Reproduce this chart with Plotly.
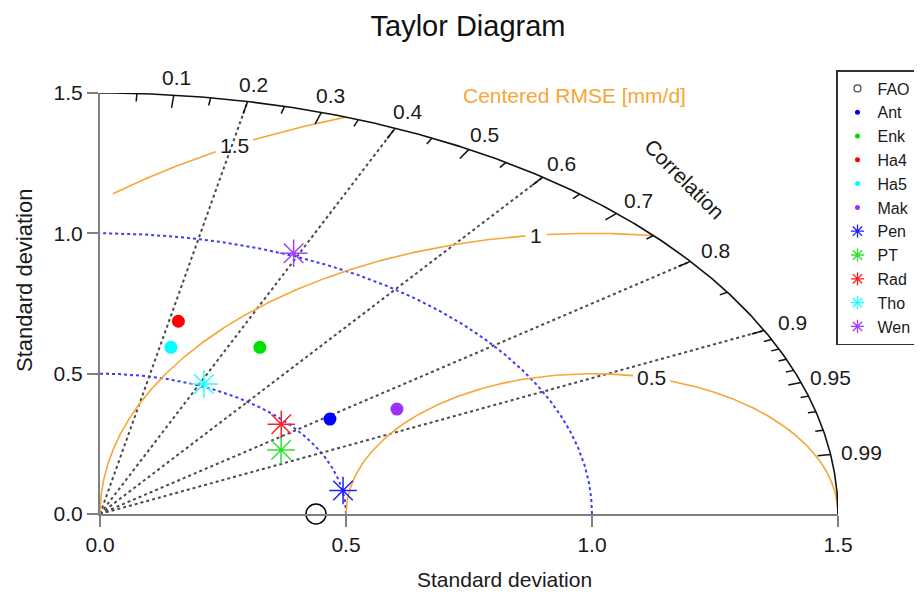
import numpy as np
import plotly.graph_objects as go

# ---------------- data ----------------
MODELS = ["FAO", "Ant", "Enk", "Ha4", "Ha5", "Mak", "Pen", "PT", "Rad", "Tho", "Wen"]
STD_DEV = [0.439, 0.577, 0.677, 0.705, 0.611, 0.710, 0.501, 0.433, 0.488, 0.509, 1.009]
CORRELATION = [1.0, 0.810, 0.480, 0.226, 0.236, 0.850, 0.986, 0.850, 0.755, 0.415, 0.390]
KIND = ["ref", "dot", "dot", "dot", "dot", "dot", "star", "star", "star", "star", "star"]
COLORS = ["#000000", "#0000ff", "#00e000", "#ff0000", "#00ffff", "#9b30ff",
          "#2020ff", "#30e030", "#ff2020", "#20ffff", "#a040ff"]

CORR_LABEL_TICKS = [0.1, 0.2, 0.3, 0.4, 0.5, 0.6, 0.7, 0.8, 0.9, 0.95, 0.99]
CORR_LABELS = ["0.1", "0.2", "0.3", "0.4", "0.5", "0.6", "0.7", "0.8", "0.9", "0.95", "0.99"]
CORR_MINOR_TICKS = [0.05, 0.15, 0.25, 0.35, 0.45, 0.55, 0.65, 0.75, 0.85,
                    0.91, 0.92, 0.93, 0.94, 0.96, 0.97, 0.98]
CORR_GRID = [0.2, 0.4, 0.6, 0.8, 0.9]
SD_ARCS = [0.5, 1.0]
SD_MAX = 1.5
RMSE_REF = 1.0
RMSE_LEVELS = [0.5, 1.0, 1.5]
RMSE_LABELS = ["0.5", "1", "1.5"]
AXIS_TICKS = [0.0, 0.5, 1.0, 1.5]
AXIS_TICK_TEXT = ["0.0", "0.5", "1.0", "1.5"]

# ---------------- styling / layout helpers ----------------
FONT = "Liberation Sans, Arial, sans-serif"
TXT = "#1a1a1a"
ORANGE = "#f7a635"
GRID_GRAY = "#4a4a4a"
BLUE_DOT = "#3a3aff"
OFF = 8                      # page body margin offset
W, H = 922 - OFF, 601 - OFF
L, T = 100 - OFF, 93 - OFF
R = W - (838 - OFF)
B = H - (514 - OFF)
PW, PH = W - L - R, H - T - B
PX_X = PW / SD_MAX
PX_Y = PH / SD_MAX
RMSE_LABEL_ANGLES = [76, 96.5, 119]   # placement of contour labels (deg around ref point)
LABEL_R = 1.563


def page_to_paper(px, py):
    return (px - OFF - L) / PW, (H - B - (py - OFF)) / PH


def to_xy(sd, corr):
    th = np.arccos(np.clip(corr, -1, 1))
    return sd * np.cos(th), sd * np.sin(th)


def clean(a):
    return [None if (v is None or (isinstance(v, float) and np.isnan(v))) else float(v) for v in a]


fig = go.Figure()

# std-dev arcs (blue dotted)
th = np.linspace(0, np.pi / 2, 400)
for r in SD_ARCS:
    fig.add_trace(go.Scatter(x=r * np.cos(th), y=r * np.sin(th), mode="lines",
                             line=dict(color=BLUE_DOT, width=2, dash="dot"),
                             hoverinfo="skip", showlegend=False, cliponaxis=False))

# correlation grid lines (gray dotted)
for c in CORR_GRID:
    x1, y1 = to_xy(SD_MAX, c)
    fig.add_trace(go.Scatter(x=[0, x1], y=[0, y1], mode="lines",
                             line=dict(color=GRID_GRAY, width=2, dash="dot"),
                             hoverinfo="skip", showlegend=False, cliponaxis=False))

# centered RMSE contours
t = np.linspace(0, np.pi, 2000)
ann = []
for lev, lab, ang in zip(RMSE_LEVELS, RMSE_LABELS, RMSE_LABEL_ANGLES):
    x = RMSE_REF + lev * np.cos(t)
    y = lev * np.sin(t)
    xmin = 0.0 if lev <= RMSE_REF else 0.025
    keep = (x >= xmin) & (x ** 2 + y ** 2 <= SD_MAX ** 2 + 1e-9)
    lx = RMSE_REF + lev * np.cos(np.radians(ang))
    ly = lev * np.sin(np.radians(ang))
    half = (11 * sum(ch.isdigit() for ch in lab) + 5 * lab.count(".") + 10) / 2
    gap = (np.abs(x - lx) * PX_X < half) & (np.abs(y - ly) * PX_Y < 12)
    m = keep & ~gap
    xs = np.where(m, x, np.nan)
    ys = np.where(m, y, np.nan)
    fig.add_trace(go.Scatter(x=clean(xs), y=clean(ys), mode="lines",
                             line=dict(color=ORANGE, width=1.6),
                             connectgaps=False, hoverinfo="skip",
                             showlegend=False, cliponaxis=False))
    ann.append(dict(x=lx, y=ly, xref="x", yref="y", text=lab, showarrow=False,
                    xanchor="center", yanchor="middle",
                    font=dict(family=FONT, size=21, color=TXT)))

# outer arc
fig.add_trace(go.Scatter(x=SD_MAX * np.cos(th), y=SD_MAX * np.sin(th), mode="lines",
                         line=dict(color="#111111", width=1.6),
                         hoverinfo="skip", showlegend=False, cliponaxis=False))

# correlation ticks on arc
tx, ty = [], []
for ticks, plen in ((CORR_LABEL_TICKS, 13), (CORR_MINOR_TICKS, 8)):
    for c in ticks:
        thc = np.arccos(c)
        dl = plen / np.hypot(PX_X * np.cos(thc), PX_Y * np.sin(thc))
        xa, ya = to_xy(SD_MAX, c)
        xb, yb = to_xy(SD_MAX - dl, c)
        tx += [xa, xb, None]
        ty += [ya, yb, None]
fig.add_trace(go.Scatter(x=tx, y=ty, mode="lines", line=dict(color="#111111", width=1.5),
                         hoverinfo="skip", showlegend=False, cliponaxis=False))

# correlation labels (paper-referenced so those above the axis range still show)
lxs, lys = to_xy(LABEL_R, np.array(CORR_LABEL_TICKS))
for xx, yy, lab in zip(lxs, lys, CORR_LABELS):
    ann.append(dict(x=xx / SD_MAX, y=yy / SD_MAX, xref="paper", yref="paper", text=lab,
                    showarrow=False, xanchor="center", yanchor="middle",
                    font=dict(family=FONT, size=21, color=TXT)))

# data points (plot) + legend entries
for name, sd, cr, kind, col in zip(MODELS, STD_DEV, CORRELATION, KIND, COLORS):
    px, py = to_xy(sd, cr)
    if kind == "ref":
        mk = dict(symbol="circle-open", size=20, color=col, line=dict(color=col, width=1.5))
        lmk = dict(symbol="circle-open", size=7, color="#444", line=dict(color="#444", width=1.2))
    elif kind == "dot":
        mk = dict(symbol="circle", size=13, color=col)
        lmk = dict(symbol="circle", size=5, color=col)
    else:
        mk = dict(symbol="asterisk-open", size=23, color=col, line=dict(color=col, width=1.5))
        lmk = dict(symbol="asterisk-open", size=11, color=col, line=dict(color=col, width=1.3))
    fig.add_trace(go.Scatter(x=[px], y=[py], mode="markers", marker=mk, name=name,
                             showlegend=False, cliponaxis=False))
    fig.add_trace(go.Scatter(x=[None], y=[None], mode="markers", marker=lmk, name=name,
                             showlegend=True))

# text annotations
xt_x, xt_y = page_to_paper(504, 579)
yt_x, yt_y = page_to_paper(24, 281)
ann += [
    dict(x=0.965, y=1.491, xref="x", yref="y", text="Centered RMSE [mm/d]", showarrow=False,
         xanchor="center", yanchor="middle",
         font=dict(family=FONT, size=21, color=ORANGE)),
    dict(x=1.189, y=1.192, xref="x", yref="y", text="Correlation", showarrow=False,
         xanchor="center", yanchor="middle",
         textangle=45, font=dict(family=FONT, size=21, color=TXT)),
    dict(x=xt_x, y=xt_y, xref="paper", yref="paper",
         text="Standard deviation", showarrow=False, xanchor="center", yanchor="middle",
         font=dict(family=FONT, size=21, color=TXT)),
    dict(x=yt_x, y=yt_y, xref="paper", yref="paper",
         text="Standard deviation", showarrow=False, textangle=-90,
         xanchor="center", yanchor="middle",
         font=dict(family=FONT, size=22, color=TXT)),
]

axis_common = dict(range=[0, SD_MAX], showgrid=False, zeroline=False, showline=True,
                   linecolor="#808080", linewidth=2, ticks="outside", ticklen=11,
                   tickwidth=2, tickcolor="#808080", tickvals=AXIS_TICKS,
                   ticktext=AXIS_TICK_TEXT, tickfont=dict(family=FONT, size=21, color=TXT),
                   fixedrange=True)

leg_x, leg_y = page_to_paper(836, 70)
fig.update_layout(
    width=W, height=H,
    margin=dict(l=L, r=R, t=T, b=B, autoexpand=False),
    paper_bgcolor="white", plot_bgcolor="white",
    title=dict(text="Taylor Diagram", x=(468 - OFF) / W, xref="container", xanchor="center",
               y=1 - (26 - OFF) / H, yref="container", yanchor="middle",
               font=dict(family=FONT, size=29, color="#111111")),
    xaxis=axis_common,
    yaxis=axis_common,
    legend=dict(x=leg_x, y=leg_y,
                xanchor="left", yanchor="top", bgcolor="white",
                bordercolor="#333333", borderwidth=1.5, itemwidth=30,
                font=dict(family=FONT, size=16, color=TXT), tracegroupgap=0),
    annotations=ann,
    showlegend=True,
)

fig.write_html("out.html")
